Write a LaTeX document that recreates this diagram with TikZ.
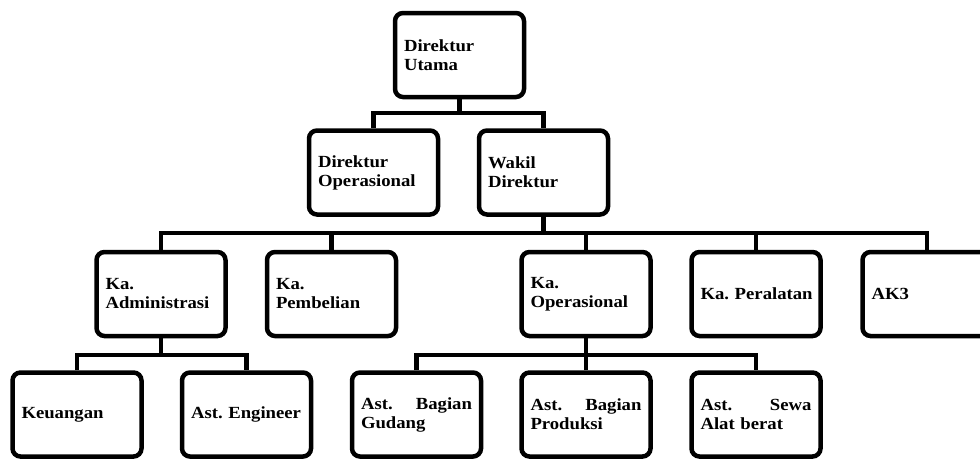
\documentclass[tikz,border=0pt]{standalone}
\usepackage{fontspec}
\setmainfont[FakeStretch=1.1]{Liberation Serif}
\frenchspacing
\begin{document}
\begin{tikzpicture}[x=1pt,y=-1pt,
  orgbox/.style={draw, line width=4.5pt, rounded corners=8pt, fill=white,
    minimum width=129pt, minimum height=84pt, text width=111pt,
    inner xsep=9pt, inner ysep=0pt, align=left,
    font=\bfseries\fontsize{17}{19}\selectfont\frenchspacing},
  conn/.style={line width=4.5pt}]
\useasboundingbox (0,0) rectangle (980,459);
% row 1
\node[orgbox] (du) at (459.5,55) {Direktur\\Utama};
% row 2
\node[orgbox] (do) at (373.5,172.5) {Direktur\\Operasional};
\node[orgbox] (wd) at (543.5,172.5) {Wakil\\Direktur};
% row 3
\node[orgbox] (kadm) at (161,294) {Ka.\\Administrasi};
\node[orgbox] (kpem) at (331.5,294) {Ka.\\Pembelian};
\node[orgbox] (kop) at (586,294) {Ka.\\Operasional};
\node[orgbox] (kper) at (756,294) {\mbox{Ka. Peralatan}};
\node[orgbox] (ak) at (927,294) {AK3};
% row 4
\node[orgbox] (keu) at (77,414.5) {Keuangan};
\node[orgbox] (eng) at (246.5,414.5) {\mbox{Ast. Engineer}};
\node[orgbox] (gud) at (416.5,414.5) {Ast.\hfill Bagian\\Gudang};
\node[orgbox] (pro) at (586,414.5) {Ast.\hfill Bagian\\Produksi};
\node[orgbox] (sew) at (756,414.5) {Ast.\hfill Sewa\\Alat berat};
% connectors
\coordinate (b1) at (0,113);
\coordinate (b2) at (0,233);
\coordinate (b3) at (0,355);
\draw[conn] (du.south) -- (du.south |- b1);
\draw[conn] (do.north) |- (wd.north |- b1) -- (wd.north);
\draw[conn] (wd.south) -- (wd.south |- b2);
\draw[conn] (kadm.north) |- (ak.north |- b2) -- (ak.north);
\draw[conn] (kpem.north) -- (kpem.north |- b2);
\draw[conn] (kop.north) -- (kop.north |- b2);
\draw[conn] (kper.north) -- (kper.north |- b2);
\draw[conn] (kadm.south) -- (kadm.south |- b3);
\draw[conn] (keu.north) |- (eng.north |- b3) -- (eng.north);
\draw[conn] (kop.south) -- (kop.south |- b3);
\draw[conn] (gud.north) |- (sew.north |- b3) -- (sew.north);
\draw[conn] (pro.north) -- (pro.north |- b3);
\end{tikzpicture}
\end{document}
